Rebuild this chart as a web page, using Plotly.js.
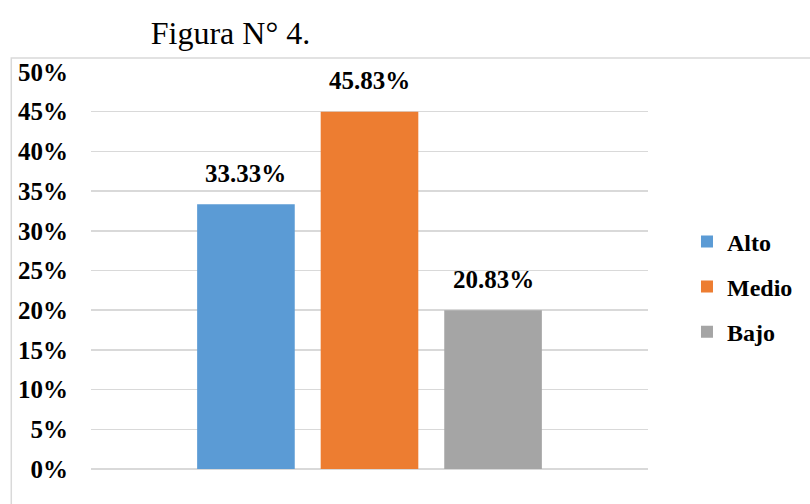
<!DOCTYPE html>
<html>
<head>
<meta charset="utf-8">
<script src="https://cdn.plot.ly/plotly-3.0.1.min.js"></script>
<style>html,body{margin:0;padding:0;background:#fff;}#chart{width:810px;height:504px;}</style>
</head>
<body>
<div id="chart"></div>
<script>
const categories = ["Alto", "Medio", "Bajo"];
const barValues = [33.33, 45, 20];
const labelTexts = ["33.33%", "45.83%", "20.83%"];
const colors = ["#5b9bd5", "#ed7d31", "#a5a5a5"];
const yTickVals = [0, 5, 10, 15, 20, 25, 30, 35, 40, 45, 50];
const yTickText = ["0%", "5%", "10%", "15%", "20%", "25%", "30%", "35%", "40%", "45%", "50%"];

const serif = "Liberation Serif, Times New Roman, serif";

const traces = categories.map((c, i) => ({
  type: "bar",
  name: "<b>" + c + "</b>",
  x: [c],
  y: [barValues[i]],
  width: 0.79,
  marker: {color: colors[i]},
  legendgroup: "g" + i,
  hoverinfo: "skip"
}));

const annotations = categories.map((c, i) => ({
  x: c, y: barValues[i], xref: "x", yref: "y",
  text: "<b>" + labelTexts[i] + "</b>",
  showarrow: false, yanchor: "middle", yshift: 31,
  font: {family: serif, size: 25, color: "#000"}
}));

const layout = {
  width: 810, height: 504,
  margin: {l: 91, r: 160, t: 72, b: 34.5, pad: 0},
  paper_bgcolor: "#fff", plot_bgcolor: "#fff",
  title: {
    text: "Figura N° 4.",
    font: {family: serif, size: 32, color: "#000"},
    x: (231 - 91) / 559, xref: "paper", xanchor: "center",
    y: 1 - 33/504, yref: "container", yanchor: "middle"
  },
  barmode: "overlay",
  showlegend: true,
  legend: {
    x: 1.07, xanchor: "left", y: 0.459, yanchor: "middle",
    font: {family: serif, size: 24, color: "#000"},
    tracegroupgap: 11,
    bgcolor: "rgba(0,0,0,0)"
  },
  xaxis: {
    type: "category",
    range: [-1.254, 3.254],
    showticklabels: false, showgrid: false, zeroline: false, showline: false, ticks: "",
    fixedrange: true
  },
  yaxis: {
    range: [0, 50],
    tickvals: yTickVals, ticktext: yTickText.map(t => "<b>" + t + "</b>"),
    tickfont: {family: serif, size: 25, color: "#000"},
    ticklabelstandoff: 22,
    showgrid: true, gridcolor: "#d9d9d9", gridwidth: 1.5,
    zeroline: true, zerolinecolor: "#d9d9d9", zerolinewidth: 1.5,
    showline: false, ticks: "", ticklen: 0,
    fixedrange: true
  },
  annotations: annotations,
  shapes: [{
    type: "rect", xref: "paper", yref: "paper",
    x0: (11 - 91) / 559, x1: (815 - 91) / 559,
    y0: (469.5 - 515) / 397.5, y1: (469.5 - 58) / 397.5,
    line: {color: "#d9d9d9", width: 1.5}, fillcolor: "rgba(0,0,0,0)", layer: "below"
  }]
};

Plotly.newPlot("chart", traces, layout, {displayModeBar: false, staticPlot: true});
</script>
</body>
</html>
